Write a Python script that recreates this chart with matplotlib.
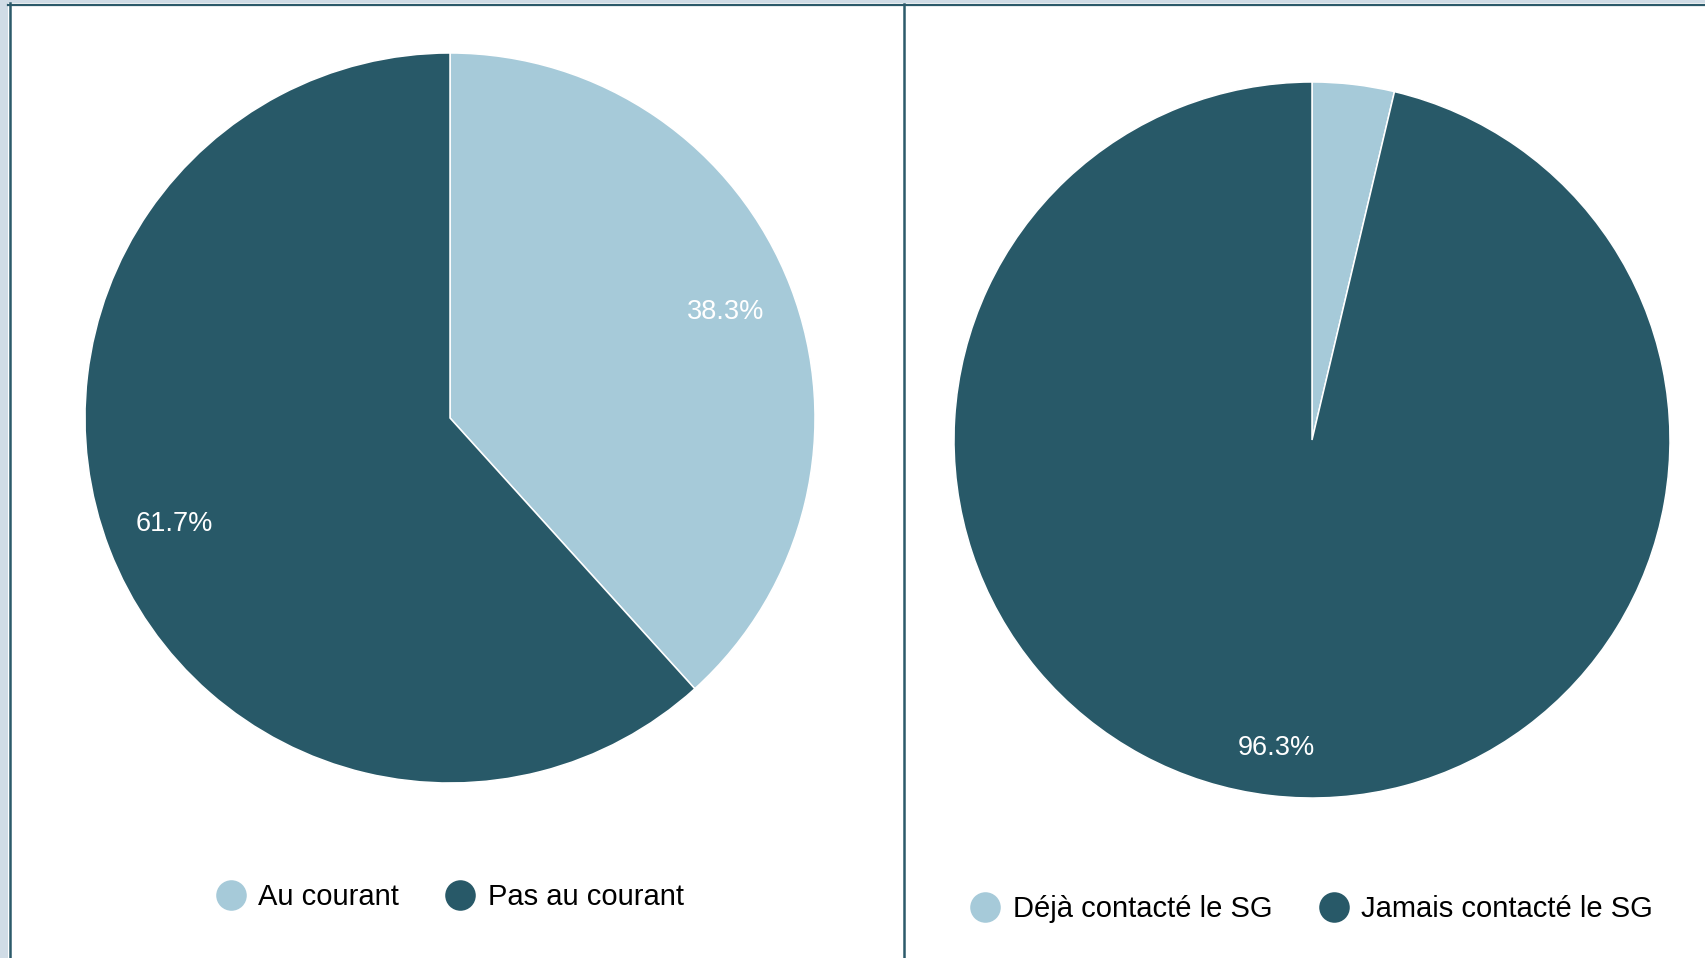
import matplotlib.pyplot as plt
from matplotlib.lines import Line2D
from matplotlib.patches import Rectangle

plt.rcParams['font.family'] = ['Liberation Sans', 'DejaVu Sans']

# ------------------- Data -------------------
left_labels = ["Au courant", "Pas au courant"]
left_values = [38.3, 61.7]

right_labels = ["Déjà contacté le SG", "Jamais contacté le SG"]
right_values = [3.7, 96.3]

colors = ["#a6cad9", "#285968"]

W, H = 1706, 958
fig = plt.figure(figsize=(W / 100, H / 100), dpi=100)
fig.patch.set_facecolor("white")

# frame around the panels
fig.patches.append(Rectangle((0, 0), 8 / W, 1, transform=fig.transFigure,
                             facecolor="#d0dce6", edgecolor="none", zorder=0))
fig.patches.append(Rectangle((0, 1 - 3 / H), 1, 3 / H, transform=fig.transFigure,
                             facecolor="#d0dce6", edgecolor="none", zorder=0))
border = "#2c5a6a"
fig.lines.append(Line2D([9.5 / W, 9.5 / W], [0, 1 - 3 / H], transform=fig.transFigure,
                        color=border, lw=1.8))
fig.lines.append(Line2D([8 / W, 1], [1 - 4.5 / H, 1 - 4.5 / H], transform=fig.transFigure,
                        color=border, lw=1.6))
fig.lines.append(Line2D([904 / W, 904 / W], [0, 1 - 4 / H], transform=fig.transFigure,
                        color=border, lw=1.8))


def pct_label(p):
    # small slices get no label
    return "%1.1f%%" % p if p >= 5 else ""


def add_pie(cx, cy, r, values, labels, pctdist, leg_y):
    ax = fig.add_axes([(cx - r) / W, (H - cy - r) / H, 2 * r / W, 2 * r / H])
    ax.pie(values, colors=colors, startangle=90, counterclock=False,
           autopct=pct_label, pctdistance=pctdist,
           wedgeprops=dict(edgecolor="white", linewidth=1.1),
           textprops=dict(color="white", fontsize=19.5))
    ax.set_xlim(-1, 1)
    ax.set_ylim(-1, 1)
    ax.set_aspect("equal")
    ax.axis("off")

    handles = [Line2D([], [], marker="o", linestyle="none", markersize=22,
                      markerfacecolor=c, markeredgecolor="none") for c in colors]
    fig.legend(handles, labels, loc="center", ncol=2, frameon=False,
               bbox_to_anchor=(cx / W, 1 - leg_y / H), fontsize=21,
               handlelength=1.0, handletextpad=0.45, columnspacing=1.6)


add_pie(450, 418, 365, left_values, left_labels, 0.81, 897)
add_pie(1312, 440, 358, right_values, right_labels, 0.865, 909)

fig.savefig("out.png", dpi=100)
